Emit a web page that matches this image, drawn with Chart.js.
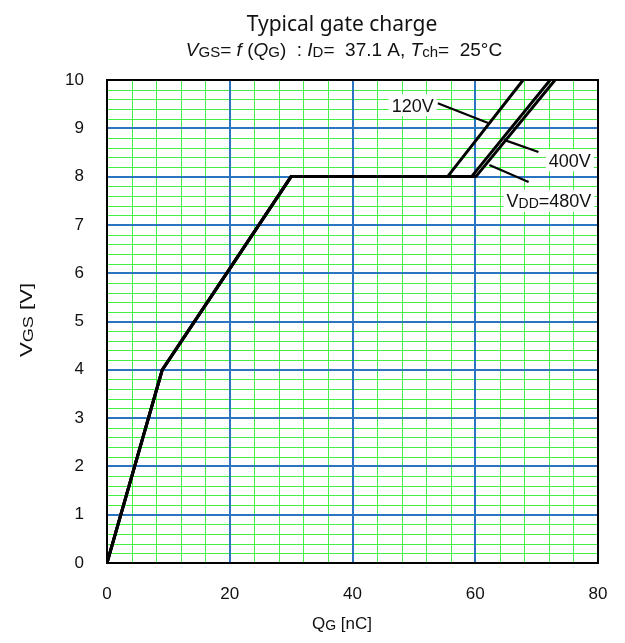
<!DOCTYPE html>
<html>
<head>
<meta charset="utf-8">
<script src="https://cdn.jsdelivr.net/npm/chart.js@4.4.1/dist/chart.umd.min.js"></script>
<style>
  html, body { margin: 0; padding: 0; background: #fff; }
  #wrap { width: 625px; height: 643px; }
</style>
</head>
<body>
<div id="wrap"><canvas id="graph" width="625" height="643"></canvas></div>
<script>
// gate charge curves, QG [nC] vs VGS [V]
const qg120 = [0, 9, 30, 55.5, 67.8];
const vgs120 = [0, 4, 8, 8, 10];
const qg400 = [0, 9, 30, 59.4, 72.2];
const vgs400 = [0, 4, 8, 8, 10];
const qg480 = [0, 9, 30, 60.1, 73.0];
const vgs480 = [0, 4, 8, 8, 10];

const xTickLabels = ['0', '20', '40', '60', '80'];
const yTickLabels = ['0', '1', '2', '3', '4', '5', '6', '7', '8', '9', '10'];

// curve labels: text position and leader line, in data units
const labelNames = ['120V', '400V', 'VDD=480V'];
const labelAt = [[49.8, 9.48], [75.4, 8.34], [72.0, 7.5]];
const leaderFrom = [[53.9, 9.52], [70.3, 8.51], [68.7, 7.89]];
const leaderTo = [[62.1, 9.11], [64.7, 8.76], [62.3, 8.24]];

const BLUE = '#2a74c0';
const GREEN = '#45f045';
const SANS = '"Liberation Sans", Arial, sans-serif';

function pts(xs, ys) {
    return xs.map((x, i) => ({x: x, y: ys[i]}));
}

function fontOf(p, size) {
    const s = p.sub ? Math.round(size * 0.8) : size;
    return (p.it ? 'italic ' : '') + s + 'px ' + SANS;
}

function drawRich(ctx, parts, cx, base, size) {
    let w = 0;
    parts.forEach(p => { ctx.font = fontOf(p, size); w += ctx.measureText(p.t).width; });
    let x = cx - w / 2;
    ctx.textAlign = 'left';
    ctx.textBaseline = 'alphabetic';
    parts.forEach(p => {
        ctx.font = fontOf(p, size);
        ctx.fillText(p.t, x, base + (p.sub ? 1 : 0));
        x += ctx.measureText(p.t).width;
    });
    return w;
}

const decor = {
    id: 'decor',
    beforeDatasetsDraw(chart) {
        const {ctx, chartArea: a, scales: {x, y}} = chart;
        const w = a.right - a.left, h = a.bottom - a.top;
        ctx.save();
        // minor grid
        ctx.fillStyle = GREEN;
        for (let i = 1; i < 20; i++) {
            const px = Math.round(x.getPixelForValue(i * 4));
            ctx.fillRect(px, a.top, 1, h);
        }
        for (let i = 1; i < 50; i++) {
            const py = Math.round(y.getPixelForValue(i * 0.2));
            ctx.fillRect(a.left, py, w, 1);
        }
        // major grid
        ctx.fillStyle = BLUE;
        for (let i = 1; i < 4; i++) {
            const px = Math.round(x.getPixelForValue(i * 20));
            ctx.fillRect(px - 1, a.top, 2, h);
        }
        for (let i = 1; i < 10; i++) {
            const py = Math.round(y.getPixelForValue(i));
            ctx.fillRect(a.left, py - 1, w, 2);
        }
        ctx.restore();
    },
    afterDatasetsDraw(chart) {
        const {ctx, chartArea: a, scales: {x, y}} = chart;
        ctx.save();
        ctx.strokeStyle = '#000';
        ctx.lineWidth = 2;
        ctx.strokeRect(a.left, a.top, a.right - a.left, a.bottom - a.top);

        // leaders
        ctx.lineWidth = 2.2;
        leaderFrom.forEach((f, i) => {
            ctx.beginPath();
            ctx.moveTo(x.getPixelForValue(f[0]), y.getPixelForValue(f[1]));
            ctx.lineTo(x.getPixelForValue(leaderTo[i][0]), y.getPixelForValue(leaderTo[i][1]));
            ctx.stroke();
        });

        // label boxes + text
        labelNames.forEach((name, i) => {
            const cx = x.getPixelForValue(labelAt[i][0]);
            const cy = y.getPixelForValue(labelAt[i][1]);
            let parts = [{t: name}];
            if (name.startsWith('VDD')) parts = [{t: 'V'}, {t: 'DD', sub: true}, {t: name.slice(3)}];
            let w = 0;
            parts.forEach(p => { ctx.font = fontOf(p, 18); w += ctx.measureText(p.t).width; });
            ctx.fillStyle = '#fff';
            ctx.fillRect(cx - w / 2 - 3, cy - 11, w + 6, 22);
            ctx.fillStyle = '#111';
            drawRich(ctx, parts, cx, cy + 6.5, 18);
        });
        ctx.restore();
    },
    afterDraw(chart) {
        const {ctx} = chart;
        ctx.save();
        ctx.fillStyle = '#111';
        ctx.font = '21px "Noto Sans", sans-serif';
        ctx.textAlign = 'center';
        ctx.textBaseline = 'alphabetic';
        ctx.fillText('Typical gate charge', 342, 31);

        drawRich(ctx, [
            {t: 'V', it: true}, {t: 'GS', sub: true}, {t: '= '}, {t: 'f', it: true}, {t: ' ('},
            {t: 'Q', it: true}, {t: 'G', sub: true}, {t: ')  : '}, {t: 'I', it: true}, {t: 'D', sub: true},
            {t: '=  37.1 A, '}, {t: 'T', it: true}, {t: 'ch', sub: true}, {t: '=  25°C'}
        ], 344, 56, 19);

        drawRich(ctx, [{t: 'Q'}, {t: 'G', sub: true}, {t: ' [nC]'}], 342, 629, 17);

        ctx.translate(32, 320);
        ctx.rotate(-Math.PI / 2);
        ctx.scale(1.3, 1);
        drawRich(ctx, [{t: 'V'}, {t: 'GS', sub: true}, {t: ' [V]'}], 0, 0, 17);
        ctx.restore();
    }
};

function makeSet(label, xs, ys) {
    return {
        label: label,
        data: pts(xs, ys),
        showLine: true,
        borderColor: '#000',
        borderWidth: 3,
        pointRadius: 0,
        tension: 0,
        fill: false
    };
}

const chart = new Chart(document.getElementById('graph'), {
    type: 'scatter',
    data: {
        datasets: [
            makeSet('120V', qg120, vgs120),
            makeSet('400V', qg400, vgs400),
            makeSet('480V', qg480, vgs480)
        ]
    },
    options: {
        responsive: false,
        animation: false,
        devicePixelRatio: 1,
        layout: {padding: {top: 80, right: 27, left: 0, bottom: 0}},
        plugins: {
            legend: {display: false},
            tooltip: {enabled: false}
        },
        scales: {
            x: {
                type: 'linear',
                min: 0,
                max: 80,
                afterFit: s => { s.height = 80; },
                border: {color: '#000', width: 2},
                grid: {display: false},
                ticks: {
                    stepSize: 20,
                    maxRotation: 0,
                    padding: 13,
                    color: '#111',
                    font: {size: 17, family: SANS},
                    callback: v => xTickLabels[Math.round(v / 20)]
                }
            },
            y: {
                type: 'linear',
                min: 0,
                max: 10,
                afterFit: s => { s.width = 107; },
                border: {color: '#000', width: 2},
                grid: {display: false},
                ticks: {
                    stepSize: 1,
                    padding: 15,
                    color: '#111',
                    font: {size: 17, family: SANS},
                    callback: v => yTickLabels[Math.round(v)]
                }
            }
        }
    },
    plugins: [decor]
});
</script>
</body>
</html>
